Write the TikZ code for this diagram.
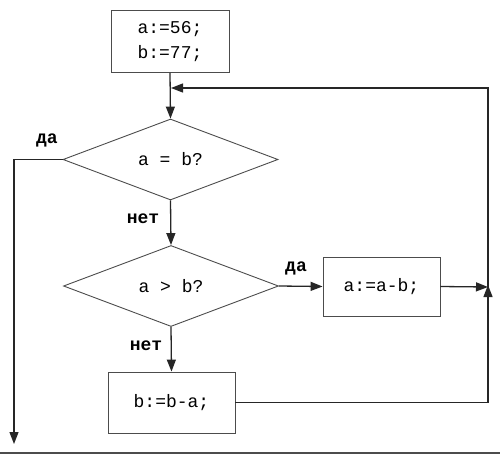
\documentclass[tikz,border=0pt]{standalone}
\usepackage{fontspec}
\setmainfont{Liberation Mono}
\usetikzlibrary{shapes.geometric,arrows.meta}
\begin{document}
\begin{tikzpicture}[x=1pt,y=-1pt,
  blk/.style={draw=black!70,line width=0.9pt,rectangle,inner sep=0pt,font=\fontsize{18}{25}\selectfont,align=center},
  cond/.style={draw=black!70,line width=0.9pt,diamond,aspect=2.65,inner sep=0pt,minimum width=215pt,minimum height=81pt,font=\fontsize{18}{22}\selectfont},
  conn/.style={draw=black!85,line width=1.3pt},
  arr/.style={conn,-{Triangle[length=12pt,width=9pt]}},
  lbl/.style={font=\fontsize{18}{20}\selectfont\bfseries,inner sep=0pt}]
\useasboundingbox (0,0) rectangle (500,455);
\node[blk,minimum width=118pt,minimum height=62pt] (init) at (170,41.5) {a:=56;\\b:=77;};
\node[cond] (d1) at (170.5,159.5) {a = b?};
\node[cond] (d2) at (171,286) {a > b?};
\node[blk,minimum width=117pt,minimum height=59pt] (ab) at (381.5,286.5) {a:=a-b;};
\node[blk,minimum width=127pt,minimum height=61pt] (ba) at (171.5,402.5) {b:=b-a;};
\coordinate (join) at (488,287);
\coordinate (merge) at (171,88);
\coordinate (leftc) at (14,159.5);
\coordinate (endc) at (14,444);
\draw[arr] (init.south) -- (d1.north);
\draw[arr] (join) |- (merge);
\draw[arr] (d1.west) -- (leftc) -- (endc);
\draw[arr] (d1.south) -- (d2.north);
\draw[arr] (d2.east) -- (ab.west);
\draw[arr] (ab.east) -- (join);
\draw[arr] (ba.east) -| ([yshift=2pt]join);
\draw[arr] (d2.south) -- (ba.north);
\node[lbl] (l1) at (47,140) {да};
\node[lbl] (l2) at (143,219) {нет};
\node[lbl] (l3) at (296,268) {да};
\node[lbl] (l4) at (146,346) {нет};
\coordinate (bl) at (0,453);
\coordinate (br) at (500,453);
\draw[draw=black!70,line width=1.5pt] (bl) -- (br);
\end{tikzpicture}
\end{document}
